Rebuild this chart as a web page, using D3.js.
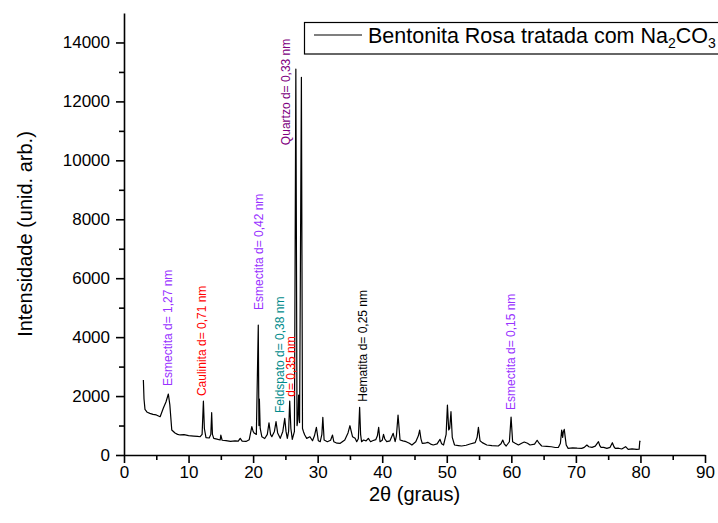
<html lang="pt">
<head>
    <meta charset="utf-8">
    <title>DRX Bentonita Rosa</title>
    <style>
        body { margin: 0; background: #fff; }
        svg text { font-family: Arial, "Liberation Sans", sans-serif; }
        .axis path, .axis line { stroke: #000; stroke-width: 1.6; }
        .axis text { font-size: 17px; fill: #000; }
    </style>
</head>
<body>
<svg id="chart" width="718" height="523"></svg>
<script src="https://d3js.org/d3.v7.min.js"></script>
<script>
    // 2theta (graus)
    var twoTheta = [3.0, 3.1, 3.25, 3.6, 4.0, 4.5, 5.0, 5.6, 6.1, 6.5, 6.87, 7.1, 7.4, 7.9, 8.3, 8.7, 9.3, 10.0, 10.8, 11.4,
        11.8, 12.1, 12.3, 12.45, 12.7, 13.2, 13.45, 13.58, 13.7, 13.9, 14.4, 14.9, 15.0, 15.2, 15.8, 16.5, 17.2, 17.7, 18.0, 18.3,
        18.9, 19.4, 19.8, 20.0, 20.2, 20.5, 20.8, 20.9, 20.97, 21.1, 21.35, 21.8, 22.2, 22.46, 22.7, 22.9, 23.3, 23.55, 23.8, 24.2,
        24.6, 24.9, 25.1, 25.3, 25.5, 25.67, 25.85, 26.07, 26.4, 26.62, 26.8, 26.95, 27.05, 27.2, 27.48, 27.65, 27.8, 28.0, 28.3, 28.8,
        29.2, 29.5, 29.8, 30.1, 30.4, 30.65, 30.8, 31.0, 31.5, 32.0, 32.3, 32.5, 33.0, 33.5, 34.2, 34.7, 35.0, 35.2, 35.4, 35.8,
        36.05, 36.3, 36.5, 36.65, 36.8, 37.1, 37.5, 37.85, 38.2, 38.5, 39.0, 39.25, 39.45, 39.66, 40.0, 40.2, 40.4, 40.7, 41.2, 41.7,
        42.0, 42.2, 42.45, 42.76, 43.2, 43.7, 44.2, 44.6, 45.2, 45.6, 45.8, 46.0, 46.2, 46.6, 47.05, 47.5, 47.9, 48.5, 48.95, 49.2,
        49.5, 49.9, 50.1, 50.3, 50.45, 50.65, 50.85, 51.2, 51.8, 52.3, 53.0, 53.6, 54.4, 54.7, 54.9, 55.15, 55.5, 56.2, 57.0, 57.98,
        58.4, 58.67, 58.9, 59.2, 59.7, 59.96, 60.2, 60.6, 61.1, 61.6, 62.0, 62.5, 62.9, 63.6, 64.0, 64.3, 64.7, 65.5, 66.2, 66.8,
        67.3, 67.6, 67.8, 67.95, 68.06, 68.2, 68.35, 68.5, 68.8, 69.5, 70.2, 70.9, 71.3, 71.7, 72.0, 72.5, 73.0, 73.5, 73.7, 73.9,
        74.3, 74.8, 75.3, 75.65, 75.9, 76.1, 76.6, 77.1, 77.7, 78.1, 78.7, 79.4, 79.8, 79.9, 80.0];

    // intensidade (unid. arb.)
    var intensity = [2544, 1900, 1550, 1450, 1414, 1380, 1360, 1300, 1594, 1800, 2070, 1700, 848, 746, 700, 680, 690, 655, 640, 630,
        620, 700, 1832, 900, 590, 577, 700, 1436, 700, 565, 540, 509, 678, 500, 490, 460, 480, 470, 565, 470,
        460, 520, 960, 800, 735, 700, 4410, 1000, 1900, 900, 620, 560, 700, 1095, 700, 620, 800, 1130, 750, 565,
        800, 1244, 800, 565, 800, 1832, 900, 530, 800, 13100, 1000, 1200, 2035, 1100, 12820, 900, 792, 678, 565, 620,
        485, 650, 940, 485, 452, 700, 1278, 509, 452, 500, 678, 452, 400, 396, 509, 750, 994, 800, 620, 565,
        452, 550, 1617, 700, 452, 509, 480, 565, 450, 485, 520, 650, 940, 452, 500, 700, 543, 452, 480, 735,
        452, 650, 1357, 509, 480, 452, 400, 339, 450, 650, 848, 550, 396, 400, 430, 370, 339, 380, 531, 380,
        339, 700, 1696, 850, 900, 1470, 600, 339, 320, 305, 330, 373, 420, 600, 940, 485, 420, 339, 320, 305,
        380, 509, 380, 305, 450, 1290, 452, 400, 339, 400, 440, 400, 339, 370, 500, 400, 305, 290, 280, 255,
        260, 400, 848, 600, 792, 870, 600, 339, 226, 240, 230, 226, 260, 339, 280, 260, 300, 452, 320, 260,
        260, 226, 260, 418, 280, 226, 230, 203, 283, 192, 210, 192, 200, 470, 450];

    var xTicks = [0, 10, 20, 30, 40, 50, 60, 70, 80, 90];
    var yTicks = [0, 2000, 4000, 6000, 8000, 10000, 12000, 14000];

    // anotacoes: texto, posicao 2theta e intensidade onde o texto comeca
    var labelText = ["Esmectita d= 1,27 nm", "Caulinita d= 0,71 nm", "Esmectita d= 0,42 nm", "Feldspato d= 0,38 nm",
        "d= 0,35 nm", "Quartzo d= 0,33 nm", "Hematita d= 0,25 nm", "Esmectita d= 0,15 nm"];
    var labelTheta = [6.77, 12.04, 20.96, 24.21, 25.87, 25.1, 37.07, 59.95];
    var labelBase = [2340, 2000, 4920, 1425, 1978, 10516, 1808, 1526];
    var labelColor = ["#9933ff", "#ff0000", "#9933ff", "#008b8b", "#ff0000", "#800080", "#000000", "#9933ff"];

    var margin = {left: 124, top: 13, right: 13, bottom: 68};
    var width = 718, height = 523;

    var svg = d3.select("#chart");
    var x = d3.scaleLinear().domain([0, 90]).range([margin.left, 705]);
    var y = d3.scaleLinear().domain([0, 15000]).range([height - margin.bottom, margin.top]);

    var pts = twoTheta.map((t, i) => [t, intensity[i]]);

    // eixos
    svg.append("g").attr("class", "axis")
        .attr("transform", "translate(0," + y(0) + ")")
        .call(d3.axisBottom(x).tickValues(xTicks).tickSize(8).tickSizeOuter(0).tickPadding(3).tickFormat(d3.format("d")));
    svg.append("g").attr("class", "axis")
        .attr("transform", "translate(0," + y(0) + ")")
        .call(d3.axisBottom(x).tickValues(d3.range(5, 90, 10)).tickSize(5).tickFormat(""))
        .select(".domain").remove();

    svg.append("g").attr("class", "axis")
        .attr("transform", "translate(" + margin.left + ",0)")
        .call(d3.axisLeft(y).tickValues(yTicks).tickSize(8).tickSizeOuter(0).tickPadding(6).tickFormat(d3.format("d")));
    svg.append("g").attr("class", "axis")
        .attr("transform", "translate(" + margin.left + ",0)")
        .call(d3.axisLeft(y).tickValues(d3.range(1000, 15000, 2000)).tickSize(5).tickFormat(""))
        .select(".domain").remove();

    // titulos dos eixos
    svg.append("text")
        .attr("x", (x(0) + x(90)) / 2)
        .attr("y", 501)
        .attr("text-anchor", "middle")
        .attr("font-size", 20)
        .text("2θ (graus)");
    svg.append("text")
        .attr("transform", "translate(32," + (y(0) + y(15000)) / 2 + ") rotate(-90)")
        .attr("text-anchor", "middle")
        .attr("font-size", 20)
        .text("Intensidade (unid. arb.)");

    // difratograma
    var line = d3.line().x(d => x(d[0])).y(d => y(d[1]));
    svg.append("path")
        .datum(pts)
        .attr("fill", "none")
        .attr("stroke", "#000")
        .attr("stroke-width", 1.2)
        .attr("stroke-linejoin", "round")
        .attr("d", line);

    // anotacoes dos picos
    labelText.forEach(function(t, i) {
        svg.append("text")
            .attr("transform", "translate(" + x(labelTheta[i]) + "," + y(labelBase[i]) + ") rotate(-90)")
            .attr("dominant-baseline", "central")
            .attr("font-size", 12)
            .attr("fill", labelColor[i])
            .text(t);
    });

    // legenda
    var leg = svg.append("g");
    leg.append("rect")
        .attr("x", 304.5).attr("y", 22.5)
        .attr("width", 430).attr("height", 31.5)
        .attr("fill", "#fff")
        .attr("stroke", "#000")
        .attr("stroke-width", 1.2);
    leg.append("line")
        .attr("x1", 314).attr("x2", 362)
        .attr("y1", 35).attr("y2", 35)
        .attr("stroke", "#000").attr("stroke-width", 1.2);
    var lt = leg.append("text")
        .attr("x", 368).attr("y", 43)
        .attr("font-size", 21.5);
    lt.append("tspan").text("Bentonita Rosa tratada com Na");
    lt.append("tspan").attr("font-size", 14).attr("dy", 5).text("2");
    lt.append("tspan").attr("dy", -5).text("CO");
    lt.append("tspan").attr("font-size", 14).attr("dy", 5).text("3");
</script>
</body>
</html>
